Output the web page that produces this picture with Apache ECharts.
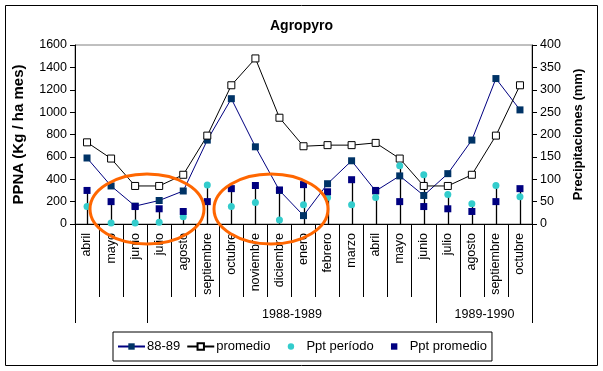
<!DOCTYPE html>
<html><head><meta charset="utf-8">
<script src="https://cdn.jsdelivr.net/npm/echarts@6/dist/echarts.min.js"></script>
<style>html,body{margin:0;padding:0;background:#fff}#c{width:603px;height:371px}</style>
</head><body><div id="c"></div>
<script>
const categories = ['abril','mayo','junio','julio','agosto','septiembre','octubre','noviembre','diciembre','enero','febrero','marzo','abril','mayo','junio','julio','agosto','septiembre','octubre'];
const ppna8889 = [590,340,160,210,295,750,1120,690,300,75,360,565,295,430,255,450,750,1300,1020];
const promedio = [730,585,340,340,440,790,1240,1480,950,695,705,705,725,585,340,340,440,790,1240];
const pptPeriodo = [39,2,2,4,16,87,39,48,9,43,59,43,59,130,110,66,45,86,61];
const pptPromedio = [75,50,39,34,28,50,79,86,76,88,72,99,75,50,39,34,28,50,79];
const groupStart = [0,3,15];
const groupEnd = [2,14,18];
const groupLabels = ['','1988-1989','1989-1990'];
const leftTicks = {min:0,max:1600,interval:200};
const rightTicks = {min:0,max:400,interval:50};

const dropTop = pptPeriodo.map((v,i)=>Math.max(v,pptPromedio[i]));
const FONT = 'Arial, "Liberation Sans", sans-serif';

const chart = echarts.init(document.getElementById('c'));
chart.setOption({
  animation:false,
  backgroundColor:'#fff',
  title:{text:'Agropyro',left:'center',top:14,textStyle:{fontFamily:FONT,fontSize:14,fontWeight:'bold',color:'#000'}},
  grid:{left:75,right:71,top:45,bottom:147,show:true,borderColor:'#808080',borderWidth:1,backgroundColor:'transparent'},
  legend:{
    left:113,top:332,orient:'horizontal',
    data:['88-89','promedio','Ppt período','Ppt promedio'],
    borderColor:'#000',borderWidth:1,padding:[8,5,8,4],
    itemWidth:27,itemHeight:8,itemGap:6,
    textStyle:{fontFamily:FONT,fontSize:13,color:'#000',padding:[0,0,0,-3]}
  },
  xAxis:{
    type:'category',data:categories,boundaryGap:true,
    axisLine:{lineStyle:{color:'#000',width:1}},
    axisTick:{show:true,interval:0,length:73,lineStyle:{color:'#000'}},
    axisLabel:{interval:0,rotate:90,margin:9,fontFamily:FONT,fontSize:12.5,color:'#000'},
    splitLine:{show:false}
  },
  yAxis:[
    {type:'value',min:leftTicks.min,max:leftTicks.max,interval:leftTicks.interval,position:'left',
     name:'PPNA (Kg / ha mes)',nameLocation:'middle',nameGap:49,
     nameTextStyle:{fontFamily:FONT,fontSize:15,fontWeight:'bold',color:'#000'},
     axisLine:{show:true,lineStyle:{color:'#000'}},axisTick:{show:true,length:5,lineStyle:{color:'#000'}},
     axisLabel:{fontFamily:FONT,fontSize:12.5,color:'#000',margin:8,formatter:v=>String(v)},splitLine:{show:false}},
    {type:'value',min:rightTicks.min,max:rightTicks.max,interval:rightTicks.interval,position:'right',
     name:'Precipitaciones (mm)',nameLocation:'middle',nameGap:38,nameRotate:90,
     nameTextStyle:{fontFamily:FONT,fontSize:13,fontWeight:'bold',color:'#000'},
     axisLine:{show:true,lineStyle:{color:'#000'}},axisTick:{show:true,length:5,lineStyle:{color:'#000'}},
     axisLabel:{fontFamily:FONT,fontSize:12.5,color:'#000',margin:8,formatter:v=>String(v)},splitLine:{show:false}}
  ],
  series:[
    {name:'drop',type:'custom',yAxisIndex:1,silent:true,z:1,
     data:dropTop.map((v,i)=>[i,v]),encode:{x:0,y:1},
     renderItem:function(params,api){
       const t=api.coord([api.value(0),api.value(1)]);
       const b=api.coord([api.value(0),0]);
       const x=Math.round(t[0])+0.5;
       return {type:'line',shape:{x1:x,y1:t[1],x2:x,y2:b[1]},style:{stroke:'#000',lineWidth:1.3}};
     }},
    {name:'groups',type:'custom',yAxisIndex:0,silent:true,z:1,clip:false,
     data:groupStart.map((s,i)=>[s,0,groupEnd[i]]),encode:{x:0,y:1},
     renderItem:function(params,api){
       const s=api.coord([api.value(0),0]);
       const e=api.coord([api.value(2),0]);
       const w=api.size([1,0])[0];
       const x0=Math.round(s[0]-w/2)+0.5, x1=Math.round(e[0]+w/2)+0.5;
       const y=s[1];
       return {type:'group',children:[
         {type:'line',shape:{x1:x0,y1:y,x2:x0,y2:y+99},style:{stroke:'#000',lineWidth:1}},
         {type:'line',shape:{x1:x1,y1:y,x2:x1,y2:y+99},style:{stroke:'#000',lineWidth:1}},
         {type:'text',style:{text:groupLabels[params.dataIndex],x:(x0+x1)/2,y:y+91,align:'center',verticalAlign:'middle',font:'12.5px '+FONT,fill:'#000'}}
       ]};
     }},
    {name:'88-89',type:'line',yAxisIndex:0,data:ppna8889,symbol:'rect',symbolSize:7,z:3,
     lineStyle:{color:'#000080',width:1},itemStyle:{color:'#003366',borderWidth:0}},
    {name:'promedio',type:'line',yAxisIndex:0,data:promedio,symbol:'rect',symbolSize:7,z:3,
     lineStyle:{color:'#000',width:1},itemStyle:{color:'#fff',borderColor:'#000',borderWidth:1}},
    {name:'Ppt período',type:'line',yAxisIndex:1,data:pptPeriodo,symbol:'circle',symbolSize:7,z:4,
     lineStyle:{opacity:0},itemStyle:{color:'#33CCCC'}},
    {name:'Ppt promedio',type:'line',yAxisIndex:1,data:pptPromedio,symbol:'rect',symbolSize:7,z:4,
     lineStyle:{opacity:0},itemStyle:{color:'#000080'}}
  ],
  graphic:[
    {type:'rect',shape:{x:5.5,y:5.5,width:592,height:360},style:{fill:'none',stroke:'#000',lineWidth:1},z:0,silent:true},
    {type:'ellipse',shape:{cx:147,cy:209,rx:57,ry:35},style:{fill:'none',stroke:'#FF6600',lineWidth:3},z:100,silent:true},
    {type:'ellipse',shape:{cx:271,cy:209,rx:57,ry:35},style:{fill:'none',stroke:'#FF6600',lineWidth:3},z:100,silent:true}
  ]
});
</script></body></html>
